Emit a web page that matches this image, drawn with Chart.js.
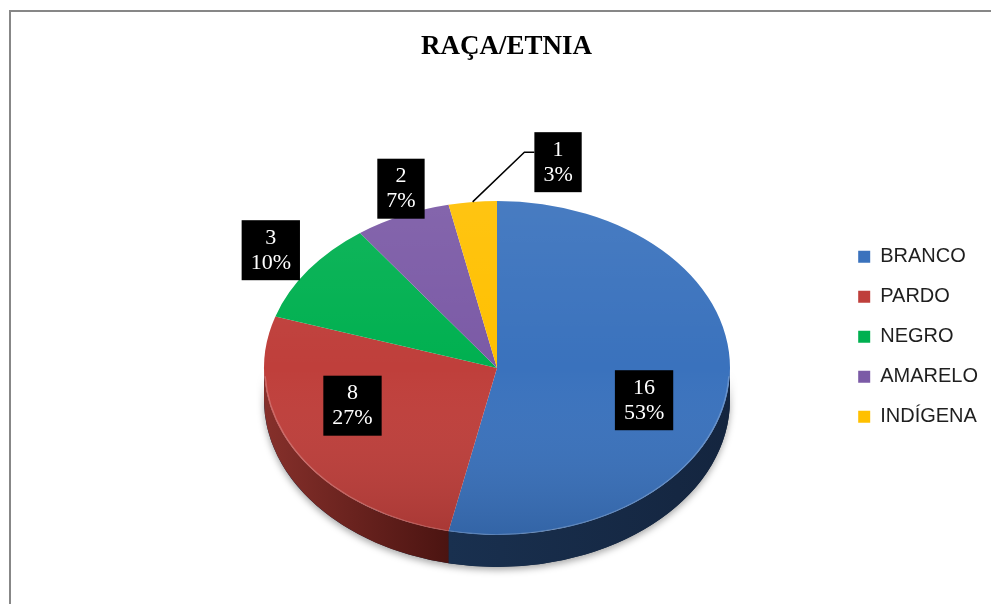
<!DOCTYPE html>
<html lang="pt-BR">
<head>
<meta charset="UTF-8">
<title>Raça/Etnia</title>
<script src="https://cdn.jsdelivr.net/npm/chart.js@4/dist/chart.umd.min.js"></script>
<style>
    html, body { margin: 0; padding: 0; background: #ffffff; }
    #caixa { width: 991px; height: 604px; position: relative; }
</style>
</head>
<body>
<div id="caixa"><canvas id="graficoRaca"></canvas></div>

<script>

// dados
const categorias = ["BRANCO", "PARDO", "NEGRO", "AMARELO", "INDÍGENA"];

const valores = [16, 8, 3, 2, 1];

const cores = ["#3a72bd", "#bf3f3b", "#00b050", "#7b5aa6", "#ffc000"];

// cor da lateral (claro -> escuro)
const coresLateral = [
    ["#19304f", "#14253f"],
    ["#86302b", "#4b1411"],
    ["#006b30", "#004a20"],
    ["#4a3566", "#35244a"],
    ["#a07800", "#7a5b00"]
];

const total = valores.reduce((soma, v) => soma + v, 0);

const porcentagens = valores.map(v => Math.round(v / total * 100));

// onde fica a pizza "3d" na tela
const elipse = { cx: 497, cy: 368, rx: 233, ry: 167, altura: 32 };

// posição dos rótulos (fração do raio e giro em graus)
const posRotulos = [
    { raio: 0.66, giro: 11 },
    { raio: 0.66, giro: 10 },
    { raio: 1.2, giro: 0 },
    { raio: 1.15, giro: 3 },
    { raio: 1.26, giro: 18, linha: true }
];


function aplicarElipse(ctx, arco) {

    const r = arco.outerRadius;

    ctx.translate(elipse.cx, elipse.cy);
    ctx.scale(elipse.rx / r, elipse.ry / r);
    ctx.translate(-arco.x, -arco.y);
}


const pizza3d = {

    id: "pizza3d",

    beforeDraw(chart) {

        // moldura cinza do gráfico
        const ctx = chart.ctx;

        ctx.save();
        ctx.strokeStyle = "#878787";
        ctx.lineWidth = 2;
        ctx.strokeRect(10, 11, 1200, 900);
        ctx.restore();
    },

    beforeDatasetsDraw(chart) {

        const ctx = chart.ctx;
        const arcos = chart.getDatasetMeta(0).data;

        if (!arcos.length) return;

        const base = arcos[0];
        const x = base.x;
        const y = base.y;
        const r = base.outerRadius;
        const prof = elipse.altura * r / elipse.ry;

        ctx.save();
        aplicarElipse(ctx, base);

        // sombra embaixo
        ctx.save();
        ctx.shadowColor = "rgba(0,0,0,0.35)";
        ctx.shadowBlur = 7;
        ctx.shadowOffsetY = 3;
        ctx.beginPath();
        ctx.arc(x, y, r, 0, Math.PI);
        ctx.arc(x, y + prof, r, Math.PI, 0, true);
        ctx.closePath();
        ctx.fillStyle = "#14253f";
        ctx.fill();
        ctx.restore();

        // lateral: só a metade da frente aparece
        arcos.forEach((arco, i) => {

            const ini = Math.max(arco.startAngle, 0);
            const fim = Math.min(arco.endAngle, Math.PI);

            if (fim <= ini) return;

            const x0 = x + r * Math.cos(fim);
            const x1 = x + r * Math.cos(ini);

            const grad = ctx.createLinearGradient(x0, 0, x1, 0);
            grad.addColorStop(0, coresLateral[i][0]);
            grad.addColorStop(1, coresLateral[i][1]);

            ctx.beginPath();
            ctx.arc(x, y, r, ini, fim);
            ctx.arc(x, y + prof, r, fim, ini, true);
            ctx.closePath();
            ctx.fillStyle = grad;
            ctx.fill();
        });
    },

    afterDatasetsDraw(chart) {

        const ctx = chart.ctx;
        const arcos = chart.getDatasetMeta(0).data;

        if (!arcos.length) return;

        const base = arcos[0];
        const x = base.x;
        const y = base.y;
        const r = base.outerRadius;

        // leve degradê por cima do topo
        const brilho = ctx.createLinearGradient(0, y - r, 0, y + r);
        brilho.addColorStop(0, "rgba(255,255,255,0.07)");
        brilho.addColorStop(0.5, "rgba(255,255,255,0)");
        brilho.addColorStop(1, "rgba(0,0,0,0.12)");

        ctx.beginPath();
        ctx.arc(x, y, r, 0, Math.PI * 2);
        ctx.fillStyle = brilho;
        ctx.fill();

        // borda clara na frente
        ctx.beginPath();
        ctx.arc(x, y, r - 1, 0.05, Math.PI - 0.05);
        ctx.strokeStyle = "rgba(255,255,255,0.22)";
        ctx.lineWidth = 1.5;
        ctx.stroke();

        ctx.restore();

        // rótulos pretos
        ctx.save();
        ctx.font = "22px 'Liberation Serif', 'Times New Roman', serif";
        ctx.textAlign = "center";
        ctx.textBaseline = "middle";

        arcos.forEach((arco, i) => {

            const pos = posRotulos[i];
            const meio = (arco.startAngle + arco.endAngle) / 2;
            const ang = meio + pos.giro * Math.PI / 180;

            const bx = elipse.cx + elipse.rx * pos.raio * Math.cos(ang);
            const by = elipse.cy + elipse.ry * pos.raio * Math.sin(ang);

            const linhas = [String(valores[i]), porcentagens[i] + "%"];
            const w = Math.max(...linhas.map(t => ctx.measureText(t).width)) + 18;
            const h = 60;

            if (pos.linha) {
                const sx = elipse.cx + elipse.rx * Math.cos(meio);
                const sy = elipse.cy + elipse.ry * Math.sin(meio);

                ctx.beginPath();
                ctx.moveTo(sx, sy);
                ctx.lineTo(bx - w / 2 - 10, by - 10);
                ctx.lineTo(bx - w / 2, by - 10);
                ctx.strokeStyle = "#000000";
                ctx.lineWidth = 1.5;
                ctx.stroke();
            }

            ctx.fillStyle = "#000000";
            ctx.fillRect(bx - w / 2, by - h / 2, w, h);

            ctx.fillStyle = "#ffffff";
            ctx.fillText(linhas[0], bx, by - 12);
            ctx.fillText(linhas[1], bx, by + 13);
        });

        ctx.restore();
    }
};


const grafico = new Chart(document.getElementById("graficoRaca"), {

    type: "pie",

    data: {
        labels: categorias,
        datasets: [{
            data: valores,
            backgroundColor: cores,
            borderWidth: 0,
            clip: false
        }]
    },

    plugins: [pizza3d],

    options: {

        responsive: true,
        maintainAspectRatio: false,
        animation: false,
        events: [],
        devicePixelRatio: 1,

        layout: {
            padding: { top: 20, bottom: 4, left: 25, right: 3 }
        },

        plugins: {

            title: {
                display: true,
                text: "RAÇA/ETNIA",
                color: "#000000",
                font: {
                    family: "'Liberation Serif', 'Times New Roman', serif",
                    size: 27,
                    weight: "bold"
                },
                padding: { top: 11, bottom: 10 }
            },

            legend: {
                position: "right",
                fullSize: false,
                labels: {
                    color: "#1f1f1f",
                    font: {
                        family: "'Liberation Sans', Arial, sans-serif",
                        size: 20
                    },
                    boxWidth: 12,
                    boxHeight: 12,
                    padding: 20
                }
            },

            tooltip: { enabled: false }
        }
    }
});

</script>
</body>
</html>
